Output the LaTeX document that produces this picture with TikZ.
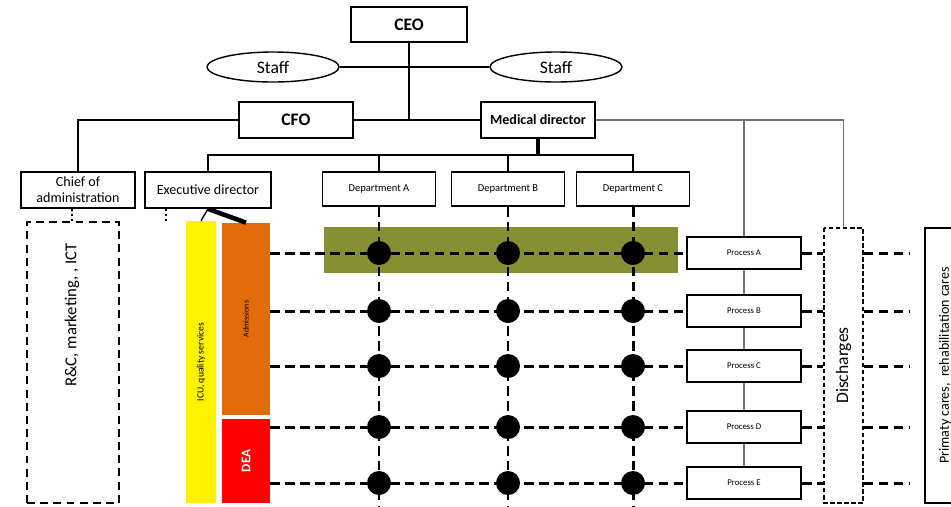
\documentclass[tikz,border=0pt]{standalone}
\usepackage{fontspec}
\setmainfont{Carlito}
\usepackage{xcolor}
\usepackage{tikz}
\usetikzlibrary{shapes.geometric,backgrounds,positioning,calc}
\definecolor{olivebar}{HTML}{869033}
\definecolor{orangebar}{HTML}{E36C0A}
\newcommand{\pt}[1]{\fontsize{#1}{#1}\selectfont}

\begin{document}
\begin{tikzpicture}
  [box/.style = {draw, line width=1pt, fill=white, align=center,
    inner sep=1pt}, staff/.style = {shape=ellipse, draw, line width=0.8pt,
    minimum width=2.64cm, minimum height=0.60cm, inner sep=0pt,
    font=\pt{10}}, dept/.style = {box, minimum width=2.26cm, minimum
    height=0.68cm, font=\pt{6}}, procbox/.style = {box, minimum
    width=2.28cm, minimum height=0.64cm, font=\pt{5}}, bar/.style =
    {rotate=90, inner sep=0pt, align=center}, orgline/.style = {line
    width=1pt}, grayline/.style = {line width=1pt, black!55},
    griddash/.style = {line width=1.7pt, dash pattern=on 5.5pt off 3pt},
    dot/.style = {shape=circle, fill=black, inner sep=0pt, minimum
    size=0.48cm}]

  \useasboundingbox (0,0) rectangle (19.02,-10.12);

  \node [box, minimum width=2.32cm, minimum height=0.70cm,
  font=\pt{10}\bfseries] (CEO) at (8.18,-0.49) {CEO};
  \node [staff] (StaffL) at (5.46,-1.34) {Staff};
  \node [staff] (StaffR) at (11.12,-1.34) {Staff};
  \node [box, minimum width=2.28cm, minimum height=0.72cm,
  font=\pt{10}\bfseries] (CFO) at (5.92,-2.40) {CFO};
  \node [box, minimum width=2.28cm, minimum height=0.72cm,
  font=\pt{8}\bfseries] (MedDir) at (10.76,-2.40) {Medical director};
  \node [box, minimum width=2.28cm, minimum height=0.72cm,
  font=\pt{8}] (Chief) at (1.56,-3.80) {Chief of\\[1pt]administration};
  \node [box, minimum width=2.52cm, minimum height=0.72cm,
  font=\pt{8}] (Exec) at (4.16,-3.80) {Executive director};
  \node [dept] (DeptA) at (7.58,-3.78) {Department A};
  \node [dept] (DeptB) at (10.16,-3.78) {Department B};
  \node [dept] (DeptC) at (12.66,-3.78) {Department C};

  \foreach \r/\y in {A/-5.06, B/-6.22, C/-7.32, D/-8.54, E/-9.66}
  \node [procbox] (Proc\r) at (14.88,\y) {\raisebox{-2pt}{Process \r}};

  \node [bar, draw, dashed, line width=0.9pt, dash pattern=on 2.5pt off
  1.5pt, minimum width=5.50cm, minimum height=0.78cm, font=\pt{10}] (Dis)
  at (16.87,-7.31) {Discharges};
  \node [bar, draw, line width=1pt, minimum width=5.50cm, minimum
  height=0.80cm, font=\pt{8}] (Primary) at (18.90,-7.31)
  {Primaty cares,~ rehabilitation cares};

  \node [draw, line width=1.2pt, dash pattern=on 4.5pt off 3pt, minimum
  width=1.84cm, minimum height=5.62cm] (RC) at (1.46,-7.25) {};
  \node [bar, font=\pt{9.5}] (RCtext) at (1.44,-6.30) {R\&C, marketing, , ICT};

  \node [bar, fill=yellow, minimum width=5.64cm, minimum height=0.60cm,
  font=\pt{5.5}] (ICU) at (4.02,-7.24) {ICU, quality services};
  \node [bar, fill=orangebar, minimum width=3.84cm, minimum height=0.96cm,
  font=\pt{4.5}] (Adm) at (4.92,-6.38) {Admissions};
  \node [bar, fill=red, text=white, minimum width=1.68cm, minimum
  height=0.96cm, font=\pt{7.5}\bfseries] (Dea) at (4.92,-9.22) {DEA};

  \coordinate (bus) at (10.76,-3.10);
  \coordinate (bottom) at (0,-10.30);
  \coordinate (execdot) at (3.32,-4.44);

  \begin{scope}[on background layer]
    \node [fill=olivebar, minimum width=7.08cm, minimum height=0.92cm]
    (Focus) at (10.02,-5.00) {};
    \draw [grayline] (MedDir) -| (ProcE);
    \draw [grayline] (MedDir) -| (Dis.east);
  \end{scope}

  % hierarchy
  \draw [orgline] (StaffL) -- (StaffR);
  \draw [orgline] (CEO) -- (CEO |- CFO);
  \draw [orgline] (CFO) -- (MedDir);
  \draw [orgline] (CFO) -| (Chief);
  \draw [line width=2.2pt] (MedDir) -- (bus);
  \draw [orgline] (Exec) |- (bus) -| (DeptC);
  \draw [orgline] (bus) -| (DeptA);
  \draw [orgline] (bus) -| (DeptB);
  \draw [line width=1pt, dotted] (RCtext |- Chief.south) -- (RCtext |- RC.north);
  \draw [line width=1pt, dotted] (execdot |- Exec.south) -- (execdot);
  \draw [line width=2.6pt] (Exec.south) -- (Adm.east);
  \draw [line width=0.8pt] (Exec.south) -- (ICU.east);

  % matrix
  \foreach \d in {A,B,C}
  \draw [griddash] (Dept\d) -- (Dept\d |- bottom);
  \foreach \r/\s in {A/Adm, B/Adm, C/Adm, D/Dea, E/Dea} {
    \coordinate (Out\r) at (18.20,0 |- Proc\r);
    \draw [griddash] (\s.south |- Proc\r) -- (Proc\r);
    \draw [griddash] (Proc\r) -- (Dis.north |- Proc\r);
    \draw [griddash] (Dis.south |- Proc\r) -- (Out\r);
  }
  \foreach \d in {A,B,C}
  \foreach \r in {A,B,C,D,E}
  \node [dot] at (Dept\d |- Proc\r) {};
\end{tikzpicture}
\end{document}
